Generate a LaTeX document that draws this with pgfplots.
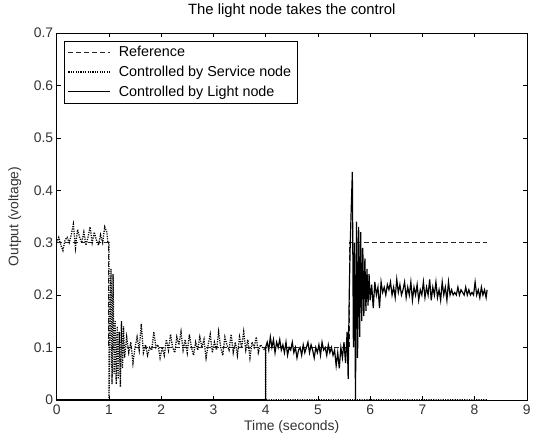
\documentclass[border=0pt]{standalone}
\usepackage{pgfplots}
\pgfplotsset{compat=1.18}
\usepackage{fontspec}
\setmainfont{Liberation Sans}
\begin{document}
\begin{tikzpicture}
\begin{axis}[
  scale only axis, width=473bp, height=369bp,
  xmin=0, xmax=9, ymin=0, ymax=0.7,
  xtick={0,1,...,9}, ytick={0,0.1,...,0.7},
  yticklabels={0,0.1,0.2,0.3,0.4,0.5,0.6,0.7},
  tick align=inside, major tick length=4bp,
  tick style={black, line width=0.5pt},
  axis line style={line width=0.6pt},
  /pgf/number format/assume math mode=true,
  ticklabel style={font=\fontsize{14}{16}\selectfont, text=black!80},
  xticklabel style={yshift=-1.5bp},
  title={The light node takes the control},
  title style={font=\fontsize{15}{17}\selectfont, at={(axis description cs:0.5,1.046)}, anchor=center},
  xlabel={Time (seconds)}, ylabel={Output (voltage)},
  label style={font=\fontsize{14}{16}\selectfont, text=black!80},
  xlabel style={at={(axis description cs:0.5,-0.073)}, anchor=center},
  ylabel style={at={(axis description cs:-0.0888,0.5)}, anchor=center},
  legend style={at={(0.0148,0.978)}, anchor=north west, draw=black, line width=0.5pt,
    font=\fontsize{14.5}{16}\selectfont, row sep=4bp, inner xsep=4bp, inner ysep=3bp,
    /tikz/every odd column/.append style={column sep=6bp}},
  legend cell align=left,
  legend image code/.code={\draw[#1] (0bp,0bp) -- (42bp,0bp);},
]
\addplot[black!85, dash pattern=on 5bp off 3bp, line width=1pt] coordinates {
(0,0.3) (1,0.3) (1,0.1) (5.6,0.1) (5.6,0.3) (8.24,0.3)};
\addlegendentry{Reference}
\addplot[black, dash pattern=on 1.2bp off 1.2bp, line width=1.3pt] coordinates {
(0,0.30) (0.04,0.31) (0.08,0.295) (0.12,0.285) (0.16,0.305) (0.2,0.31) (0.24,0.3) (0.28,0.315) (0.32,0.335) (0.36,0.29) (0.4,0.325) (0.44,0.31) (0.48,0.3) (0.52,0.32) (0.56,0.295) (0.6,0.31) (0.64,0.33) (0.68,0.3) (0.72,0.32) (0.76,0.305) (0.8,0.295) (0.84,0.315) (0.88,0.3) (0.92,0.33) (0.96,0.32) (0.98,0.3) (1.0,0.3)
(1.0,0.0) (1.02,0.1) (1.04,0.25) (1.06,0.03) (1.08,0.24) (1.1,0.05) (1.12,0.15) (1.14,0.03) (1.16,0.14) (1.18,0.04) (1.2,0.13) (1.22,0.025) (1.24,0.15) (1.26,0.06) (1.28,0.14) (1.3,0.08) (1.34,0.12) (1.38,0.09) (1.42,0.11) (1.46,0.07) (1.5,0.1) (1.54,0.12) (1.58,0.095) (1.62,0.145) (1.66,0.09) (1.7,0.105) (1.74,0.085) (1.78,0.1) (1.82,0.095) (1.86,0.13) (1.9,0.1) (1.94,0.105) (1.98,0.08)
(2.02,0.1) (2.06,0.085) (2.1,0.115) (2.14,0.095) (2.18,0.125) (2.22,0.1) (2.26,0.09) (2.3,0.12) (2.34,0.105) (2.38,0.13) (2.42,0.095) (2.46,0.115) (2.5,0.09) (2.54,0.125) (2.58,0.1) (2.62,0.085) (2.66,0.11) (2.7,0.095) (2.74,0.12) (2.78,0.1) (2.82,0.115) (2.86,0.08) (2.9,0.105) (2.94,0.125) (2.98,0.09) (3.02,0.11) (3.06,0.095) (3.1,0.13) (3.14,0.1) (3.18,0.085) (3.22,0.12) (3.26,0.105) (3.3,0.095) (3.34,0.125) (3.38,0.09) (3.42,0.11) (3.46,0.085) (3.5,0.12) (3.54,0.1) (3.58,0.13) (3.62,0.095) (3.66,0.115) (3.7,0.08) (3.74,0.11) (3.78,0.1) (3.82,0.12) (3.86,0.09) (3.9,0.105) (3.94,0.1) (3.98,0.095) (4.0,0.1)
(4.0,0) (8.24,0)};
\addlegendentry{Controlled by Service node}
\addplot[black, line width=1.2pt] coordinates {
(0,0) (4.0,0) (4.0,0.1) (4.03,0.11) (4.06,0.095) (4.09,0.12) (4.12,0.1) (4.15,0.115) (4.18,0.09) (4.21,0.11) (4.24,0.1) (4.27,0.115) (4.3,0.095) (4.33,0.105) (4.36,0.09) (4.39,0.11) (4.42,0.085) (4.45,0.1) (4.48,0.095) (4.51,0.11) (4.54,0.09) (4.57,0.1) (4.6,0.08) (4.63,0.095) (4.66,0.1) (4.69,0.085) (4.72,0.105) (4.75,0.09) (4.78,0.1) (4.81,0.11) (4.84,0.09) (4.87,0.105) (4.9,0.095) (4.93,0.08) (4.96,0.1) (4.99,0.09) (5.02,0.105) (5.05,0.085) (5.08,0.11) (5.11,0.095) (5.14,0.1) (5.17,0.085) (5.2,0.105) (5.23,0.09) (5.26,0.1) (5.29,0.085) (5.32,0.095) (5.35,0.065) (5.38,0.09) (5.41,0.06) (5.44,0.1) (5.47,0.08) (5.5,0.11) (5.53,0.07) (5.56,0.13) (5.58,0.04) (5.6,0.2) (5.62,0.3) (5.64,0.37) (5.66,0.435) (5.68,0.1) (5.7,0.3) (5.72,0.0) (5.74,0.34) (5.76,0.08) (5.78,0.33) (5.8,0.12) (5.82,0.32) (5.84,0.15) (5.86,0.29) (5.88,0.16) (5.9,0.27) (5.92,0.17) (5.94,0.25) (5.96,0.18) (5.98,0.24) (6.0,0.19) (6.03,0.22) (6.06,0.175) (6.09,0.225) (6.12,0.2) (6.15,0.215) (6.18,0.175) (6.21,0.225) (6.24,0.205) (6.27,0.215) (6.3,0.2) (6.33,0.22) (6.36,0.21) (6.39,0.225) (6.42,0.2) (6.45,0.215) (6.48,0.195) (6.51,0.23) (6.54,0.205) (6.57,0.22) (6.6,0.2) (6.63,0.21) (6.66,0.225) (6.69,0.195) (6.72,0.215) (6.75,0.2) (6.78,0.225) (6.81,0.19) (6.84,0.215) (6.87,0.2) (6.9,0.22) (6.93,0.19) (6.96,0.21) (6.99,0.2) (7.02,0.225) (7.05,0.195) (7.08,0.215) (7.11,0.2) (7.14,0.23) (7.17,0.19) (7.2,0.215) (7.23,0.2) (7.26,0.225) (7.29,0.195) (7.32,0.21) (7.35,0.19) (7.38,0.225) (7.41,0.2) (7.44,0.215) (7.47,0.19) (7.5,0.225) (7.53,0.2) (7.56,0.21) (7.59,0.2) (7.62,0.205) (7.65,0.2) (7.68,0.215) (7.71,0.2) (7.74,0.21) (7.77,0.205) (7.8,0.2) (7.83,0.215) (7.86,0.2) (7.89,0.21) (7.92,0.2) (7.95,0.205) (7.98,0.2) (8.01,0.225) (8.04,0.2) (8.07,0.21) (8.1,0.195) (8.13,0.215) (8.16,0.2) (8.19,0.21) (8.22,0.195) (8.24,0.21)};
\addlegendentry{Controlled by Light node}
\end{axis}
\path ([shift={(-57bp,-39bp)}]current axis.south west) rectangle ([shift={(4bp,29bp)}]current axis.north east);
\end{tikzpicture}
\end{document}
